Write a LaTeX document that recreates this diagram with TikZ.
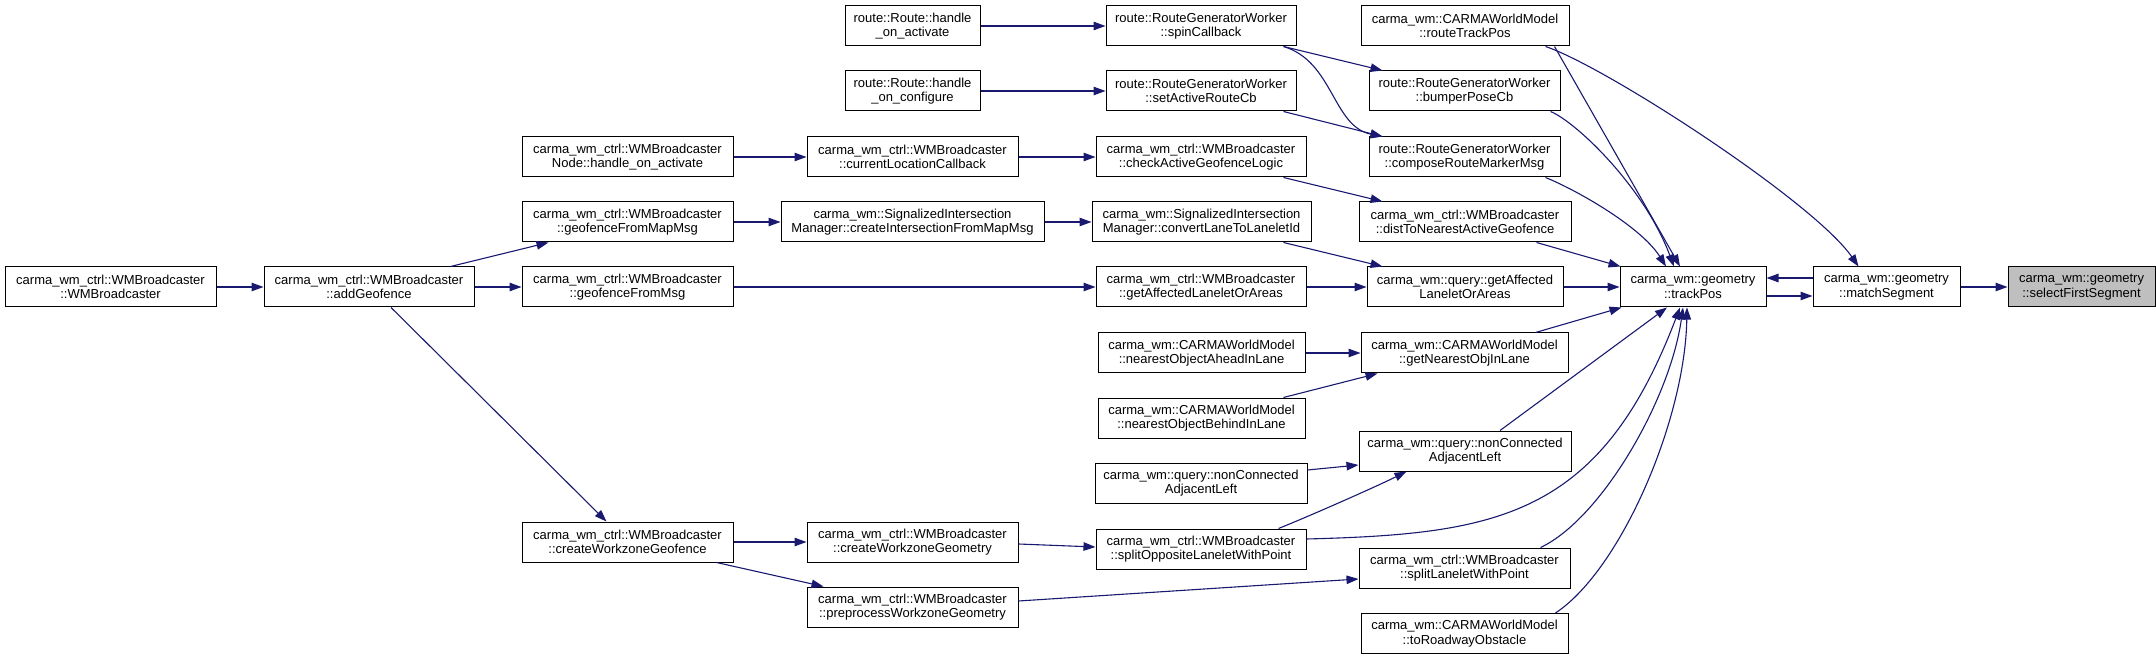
\documentclass[tikz,border=0pt]{standalone}
\usepackage{fontspec}
\setmainfont{Liberation Sans}
\usetikzlibrary{arrows.meta,calc}
\definecolor{edgeblue}{HTML}{191970}
\definecolor{rootfill}{HTML}{BFBFBF}
\begin{document}
\begin{tikzpicture}[x=1pt,y=-1pt,
  box/.style={draw=black, line width=1pt, fill=white, minimum height=40pt, inner sep=0pt, align=center, font=\fontsize{13}{14.7}\selectfont},
  rootbox/.style={box, fill=rootfill},
  edge/.style={draw=edgeblue, line width=1.1pt, -{Triangle[length=12pt,width=8.5pt]}}]
\useasboundingbox (0,0) rectangle (2156,660);
% column 1-3
\node[box, minimum width=211pt] (wmb) at (110.5,287) {carma\_wm\_ctrl::WMBroadcaster\\::WMBroadcaster};
\node[box, minimum width=210pt] (addg) at (369,287) {carma\_wm\_ctrl::WMBroadcaster\\::addGeofence};
\node[box, minimum width=211pt] (nact) at (627.5,157) {carma\_wm\_ctrl::WMBroadcaster\\Node::handle\_on\_activate};
\node[box, minimum width=211pt] (gfmap) at (627.5,222) {carma\_wm\_ctrl::WMBroadcaster\\::geofenceFromMapMsg};
\node[box, minimum width=211pt] (gfmsg) at (627.5,287) {carma\_wm\_ctrl::WMBroadcaster\\::geofenceFromMsg};
\node[box, minimum width=211pt] (cwzgf) at (627.5,542) {carma\_wm\_ctrl::WMBroadcaster\\::createWorkzoneGeofence};
% column 4
\node[box, minimum width=135pt] (ract) at (912.5,26) {route::Route::handle\\\_on\_activate};
\node[box, minimum width=135pt] (rcfg) at (912.5,91) {route::Route::handle\\\_on\_configure};
\node[box, minimum width=211pt] (curloc) at (912.5,157) {carma\_wm\_ctrl::WMBroadcaster\\::currentLocationCallback};
\node[box, minimum width=263pt] (cifmm) at (912.5,222) {carma\_wm::SignalizedIntersection\\Manager::createIntersectionFromMapMsg};
\node[box, minimum width=211pt] (cwzgeo) at (912.5,542) {carma\_wm\_ctrl::WMBroadcaster\\::createWorkzoneGeometry};
\node[box, minimum width=211pt] (prewz) at (912.5,607) {carma\_wm\_ctrl::WMBroadcaster\\::preprocessWorkzoneGeometry};
% column 5
\node[box, minimum width=190pt] (spin) at (1201,26) {route::RouteGeneratorWorker\\::spinCallback};
\node[box, minimum width=190pt] (setact) at (1201,91) {route::RouteGeneratorWorker\\::setActiveRouteCb};
\node[box, minimum width=210pt] (chkgf) at (1201,157) {carma\_wm\_ctrl::WMBroadcaster\\::checkActiveGeofenceLogic};
\node[box, minimum width=219pt] (conv) at (1201.5,222) {carma\_wm::SignalizedIntersection\\Manager::convertLaneToLaneletId};
\node[box, minimum width=210pt] (cgetaff) at (1201,287) {carma\_wm\_ctrl::WMBroadcaster\\::getAffectedLaneletOrAreas};
\node[box, minimum width=207pt] (ahead) at (1201.5,353) {carma\_wm::CARMAWorldModel\\::nearestObjectAheadInLane};
\node[box, minimum width=207pt] (behind) at (1201.5,418) {carma\_wm::CARMAWorldModel\\::nearestObjectBehindInLane};
\node[box, minimum width=212pt] (ncal) at (1201,483) {carma\_wm::query::nonConnected\\AdjacentLeft};
\node[box, minimum width=210pt] (sopp) at (1201,549) {carma\_wm\_ctrl::WMBroadcaster\\::splitOppositeLaneletWithPoint};
% column 6
\node[box, minimum width=208pt] (rtp) at (1465,26) {carma\_wm::CARMAWorldModel\\::routeTrackPos};
\node[box, minimum width=191pt] (bump) at (1464.5,91) {route::RouteGeneratorWorker\\::bumperPoseCb};
\node[box, minimum width=191pt] (comp) at (1464.5,157) {route::RouteGeneratorWorker\\::composeRouteMarkerMsg};
\node[box, minimum width=212pt] (dist) at (1465,222) {carma\_wm\_ctrl::WMBroadcaster\\::distToNearestActiveGeofence};
\node[box, minimum width=196pt] (qgetaff) at (1465,287) {carma\_wm::query::getAffected\\LaneletOrAreas};
\node[box, minimum width=207pt] (gnear) at (1464.5,353) {carma\_wm::CARMAWorldModel\\::getNearestObjInLane};
\node[box, minimum width=212pt] (ncar) at (1465,451) {carma\_wm::query::nonConnected\\AdjacentLeft};
\node[box, minimum width=211pt] (splitl) at (1464.5,568) {carma\_wm\_ctrl::WMBroadcaster\\::splitLaneletWithPoint};
\node[box, minimum width=207pt] (toroad) at (1464.5,633.5) {carma\_wm::CARMAWorldModel\\::toRoadwayObstacle};
% columns 7-9
\node[box, minimum width=146pt] (trackpos) at (1693,287) {carma\_wm::geometry\\::trackPos};
\node[box, minimum width=147pt] (match) at (1886.5,287) {carma\_wm::geometry\\::matchSegment};
\node[rootbox, minimum width=147pt] (select) at (2081.5,287) {carma\_wm::geometry\\::selectFirstSegment};
% edges
\draw[edge] (wmb.east) -- (addg.west);
\draw[edge] ([xshift=-24pt]addg.north east) -- ([xshift=27pt]gfmap.south west);
\draw[edge] (addg.east) -- (gfmsg.west);
\draw[edge] ([xshift=22pt]addg.south) -- ([xshift=-21pt]cwzgf.north);
\draw[edge] (nact.east) -- (curloc.west);
\draw[edge] (gfmap.east) -- (cifmm.west);
\draw[edge] (gfmsg.east) -- (cgetaff.west);
\draw[edge] (cwzgf.east) -- (cwzgeo.west);
\draw[edge] ([xshift=-17pt]cwzgf.south east) -- ([xshift=17pt]prewz.north west);
\draw[edge] (ract.east) -- (spin.west);
\draw[edge] (rcfg.east) -- (setact.west);
\draw[edge] (curloc.east) -- (chkgf.west);
\draw[edge] (cifmm.east) -- (conv.west);
\draw[edge] ([yshift=-2pt]cwzgeo.east) -- ([yshift=2pt]sopp.west);
\draw[edge] ([yshift=6pt]prewz.east) -- ([yshift=-11pt]splitl.west);
\draw[edge] ([xshift=-13pt]spin.south east) -- ([xshift=14pt]bump.north west);
\draw[edge] ([xshift=-13pt]spin.south east) .. controls +(50,15) and +(-50,-10) .. ([xshift=14pt]comp.north west);
\draw[edge] ([xshift=-13pt]setact.south east) -- ([xshift=14pt]comp.north west);
\draw[edge] ([xshift=-23pt]chkgf.south east) -- ([xshift=24pt]dist.north west);
\draw[edge] ([xshift=-28pt]conv.south east) -- ([xshift=16pt]qgetaff.north west);
\draw[edge] (cgetaff.east) -- (qgetaff.west);
\draw[edge] (ahead.east) -- (gnear.west);
\draw[edge] ([xshift=-22pt]behind.north east) -- ([xshift=17pt]gnear.south west);
\draw[edge] ([yshift=13pt]ncal.east) -- ([yshift=-14pt]ncar.west);
\draw[edge] ([xshift=-28pt]sopp.north east) .. controls +(30,-12) and +(-30,15) .. ([xshift=48pt]ncar.south west);
\draw[edge] ([yshift=10pt]sopp.east) .. controls +(190,-5) and +(-80,210) .. ([xshift=-13pt]trackpos.south);
\draw[edge] ([xshift=-30pt]splitl.north east) .. controls +(60,-28) and +(-13,93) .. ([xshift=-10pt]trackpos.south);
\draw[edge] ([xshift=-13pt]toroad.north east) .. controls +(65,-43) and +(-2,113) .. ([xshift=-6pt]trackpos.south);
\draw[edge] ([xshift=35pt]ncar.north) -- ([xshift=-26pt]trackpos.south);
\draw[edge] ([xshift=-33pt]gnear.north east) -- ([xshift=2pt]trackpos.south west);
\draw[edge] (qgetaff.east) -- (trackpos.west);
\draw[edge] ([xshift=-35pt]dist.south east) -- ([xshift=1pt]trackpos.north west);
\draw[edge] ([xshift=-15pt]comp.south east) .. controls +(30,12) and +(-25,-40) .. ([xshift=-27pt]trackpos.north);
\draw[edge] ([xshift=-10pt]bump.south east) .. controls +(25,10) and +(-30,-80) .. ([xshift=-19pt]trackpos.north);
\draw[edge] ([xshift=-15pt]rtp.south east) -- ([xshift=-13pt]trackpos.north);
\draw[edge] ([xshift=-24pt]rtp.south east) .. controls +(60,20) and +(-45,-65) .. ([xshift=-28pt]match.north);
\draw[edge] ([yshift=-9pt]trackpos.east) -- ([yshift=-9pt]match.west);
\draw[edge] ([yshift=9pt]match.west) -- ([yshift=9pt]trackpos.east);
\draw[edge] (match.east) -- (select.west);
\end{tikzpicture}
\end{document}
